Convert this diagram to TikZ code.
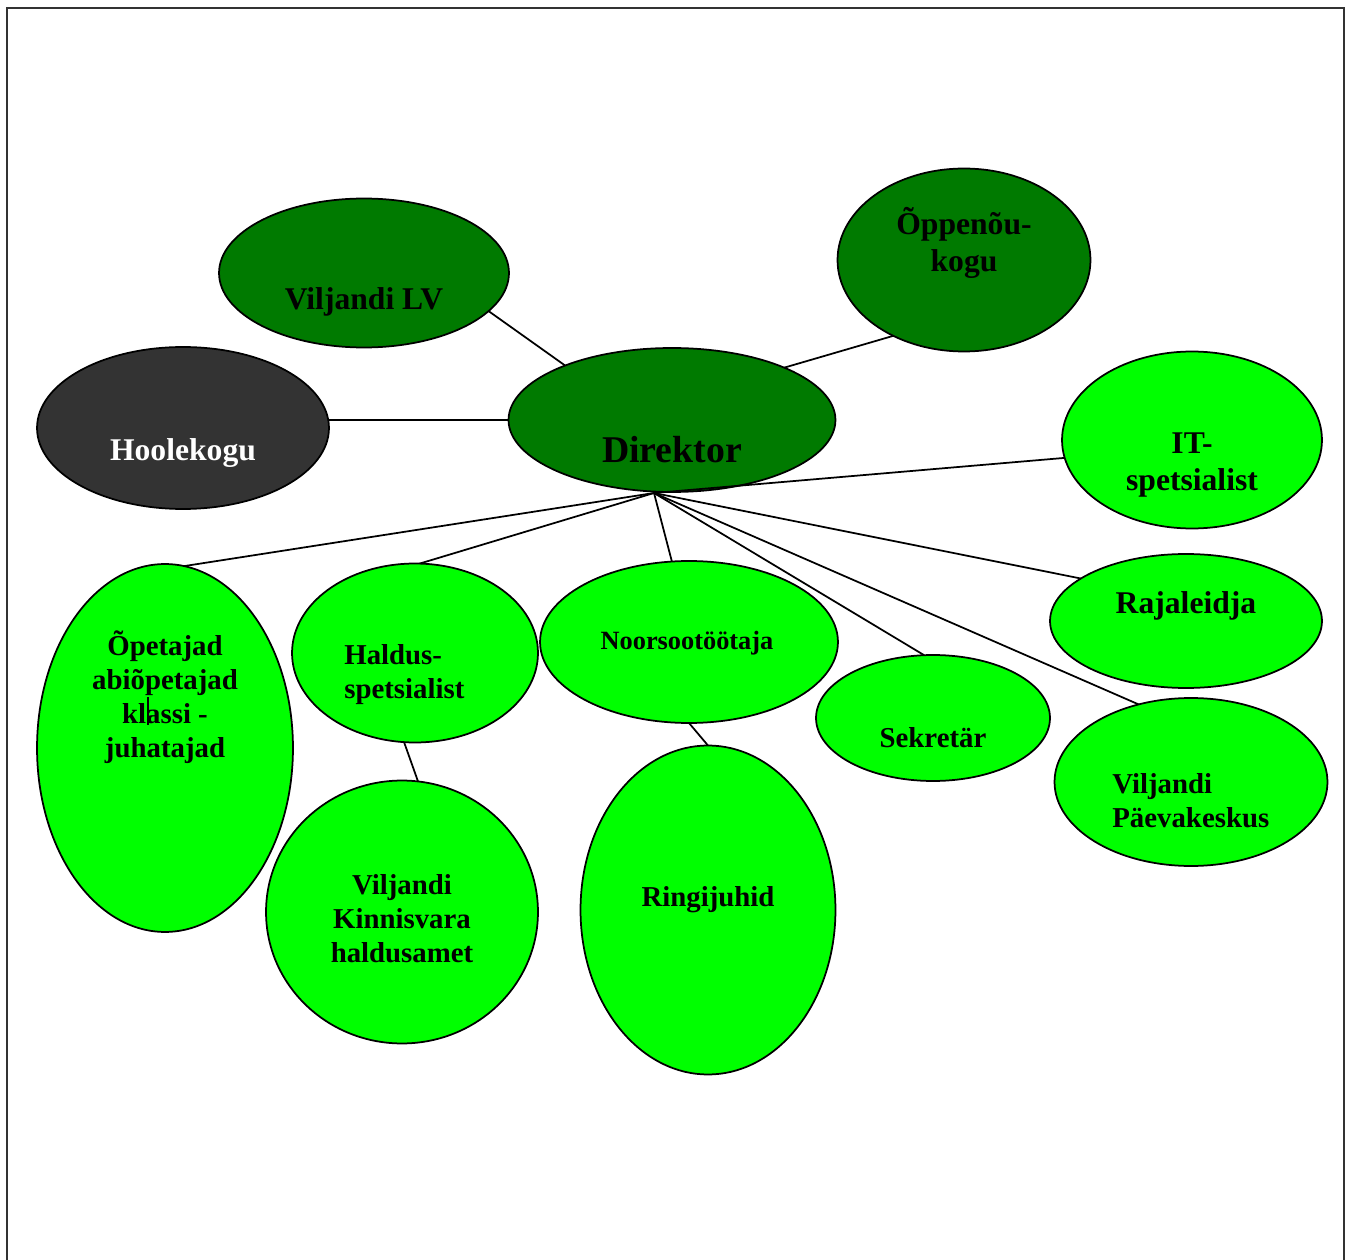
\documentclass[tikz,border=0pt]{standalone}
\usepackage{fontspec}
\setmainfont{Liberation Serif}
\usetikzlibrary{shapes.geometric}

\definecolor{darkgr}{RGB}{0,122,0}
\definecolor{lightgr}{RGB}{0,255,0}
\definecolor{darkgrey}{RGB}{51,51,51}

\tikzset{
	oval/.style={ellipse, draw, line width = 0.35mm, inner sep=0pt, outer sep=0pt},
	darkoval/.style={oval, fill=darkgr},
	lightoval/.style={oval, fill=lightgr},
	txt/.style={align=center, inner sep=0pt, font=\bfseries\fontsize{16.4}{19.3}\selectfont},
	bigtxt/.style={align=center, inner sep=0pt, font=\bfseries\fontsize{18}{21}\selectfont},
	smalltxt/.style={align=center, inner sep=0pt, font=\bfseries\fontsize{15}{18}\selectfont},
	hugetxt/.style={align=center, inner sep=0pt, font=\bfseries\fontsize{21.5}{24}\selectfont},
	link/.style={line width = 0.35mm}
}

\begin{document}
\begin{tikzpicture}[x=0.02cm, y=-0.02cm]
		
		\useasboundingbox (0,0) rectangle (1350,1260);
		\draw[line width = 0.03cm, black!80] (7,1260) -- (7,8) -- (1344,8) -- (1344,1260);
		
		\node[darkoval, minimum width=5.8cm, minimum height=2.98cm] (lv) at (364,273) {};
		\node[darkoval, minimum width=5.06cm, minimum height=3.66cm] (oppe) at (964,260) {};
		\node[oval, fill=darkgrey, minimum width=5.84cm, minimum height=3.24cm] (hool) at (183,428) {};
		\node[darkoval, minimum width=6.54cm, minimum height=2.88cm] (dir) at (672,420) {};
		
		\node[lightoval, minimum width=5.2cm, minimum height=3.54cm] (it) at (1192,440) {};
		\node[lightoval, minimum width=5.12cm, minimum height=7.36cm] (opet) at (165,748) {};
		\node[lightoval, minimum width=4.92cm, minimum height=3.58cm] (hald) at (415,653) {};
		\node[lightoval, minimum width=5.96cm, minimum height=3.24cm] (noor) at (689,642) {};
		\node[lightoval, minimum width=5.44cm, minimum height=2.68cm] (raja) at (1186,621) {};
		\node[lightoval, minimum width=4.68cm, minimum height=2.52cm] (sekr) at (933,718) {};
		\node[lightoval, minimum width=5.46cm, minimum height=3.36cm] (paev) at (1191,782) {};
		\node[lightoval, minimum width=5.44cm, minimum height=5.26cm] (kinn) at (402,912) {};
		\node[lightoval, minimum width=5.1cm, minimum height=6.58cm] (ring) at (708,910) {};
		
		\coordinate (hub) at (654,493);
		
		\draw[link] (lv.-17) -- (dir.153);
		\draw[link] (oppe.227) -- (dir.25);
		\draw[link] (hool.east |- dir.west) -- (dir.west);
		\draw[link] (hub) -- (it.188);
		\draw[link] (hub) -- (opet.84);
		\draw[link] (hub) -- (hald.87);
		\draw[link] (hub) -- (noor.102);
		\draw[link] (hub) -- (sekr.98);
		\draw[link] (hub) -- (paev.124);
		\draw[link] (hub) -- (raja.158);
		\draw[link] (hald.263) -- (kinn.83);
		\draw[link] (noor.south) -- (ring.north);
		\draw[link] (148,697) -- (148,725);
		
		\node[bigtxt] (lvtext) at (364,302) {Viljandi LV};
		\node[bigtxt] (oppetext) at (964,243) {Õppenõu-\\kogu};
		\node[bigtxt, white] (hooltext) at (183,453) {Hoolekogu};
		\node[hugetxt] (dirtext) at (672,450) {Direktor};
		\node[bigtxt] (ittext) at (1192,465) {IT-\\spetsialist};
		\node[txt] (opettext) at (165,697) {Õpetajad\\abiõpetajad\\klassi -\\juhatajad};
		\node[txt, align=left, anchor=west] (haldtext) at (344,675) {Haldus-\\spetsialist};
		\node[smalltxt] (noortext) at (687,643) {Noorsootöötaja};
		\node[bigtxt] (rajatext) at (1186,606) {Rajaleidja};
		\node[txt] (sekrtext) at (933,738) {Sekretär};
		\node[txt, align=left, anchor=west] (paevtext) at (1112,801) {Viljandi\\Päevakeskus};
		\node[txt] (kinntext) at (402,919) {Viljandi\\Kinnisvara\\haldusamet};
		\node[txt] (ringtext) at (708,900) {Ringijuhid};
		
	\end{tikzpicture}
\end{document}
